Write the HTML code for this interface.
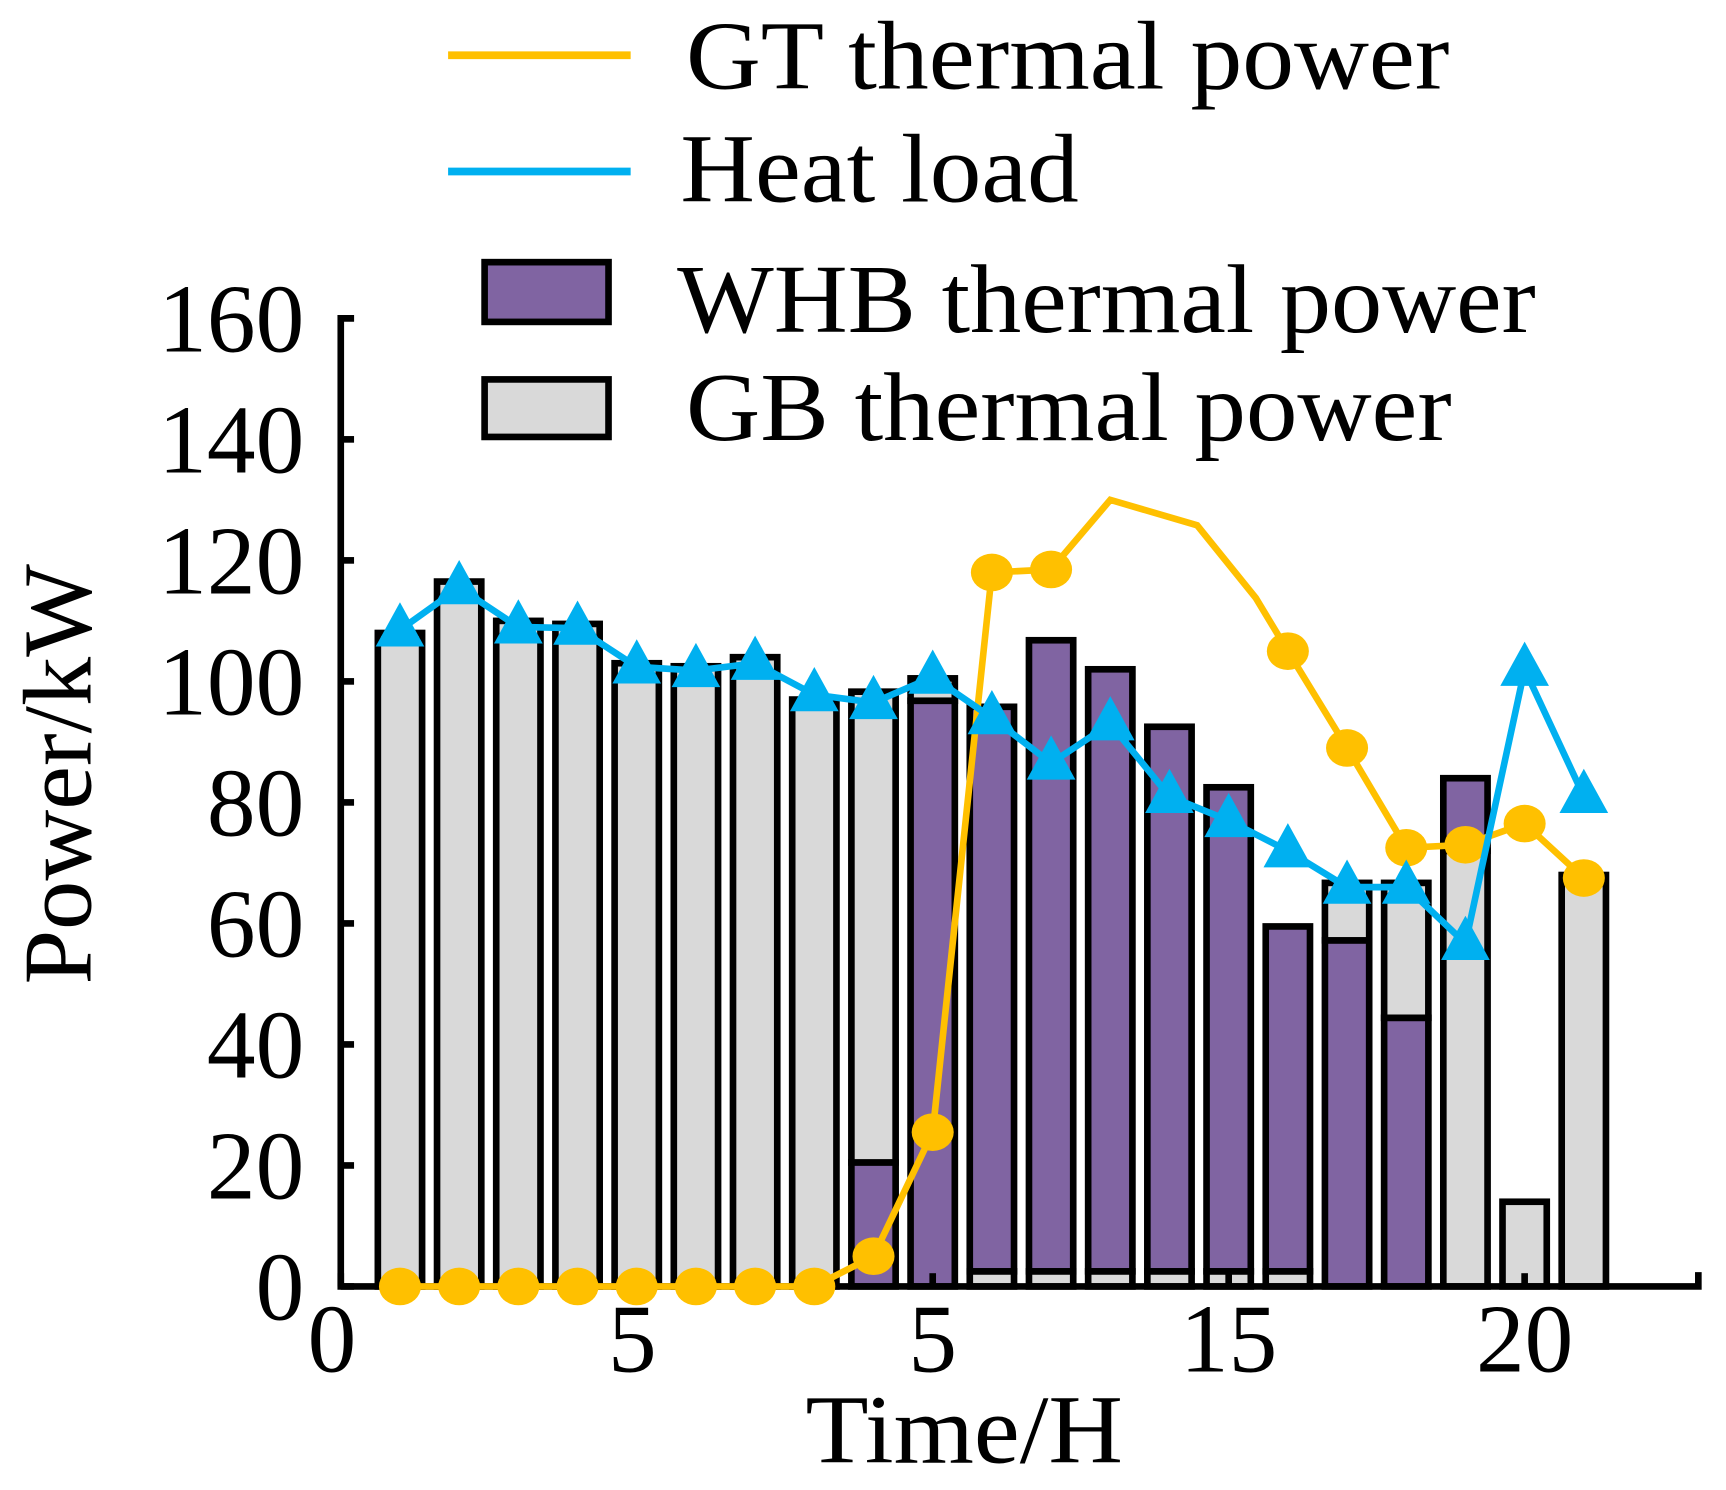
<!DOCTYPE html>
<html><head><meta charset="utf-8"><style>
html,body{margin:0;padding:0;background:#fff}
svg{display:block}
text{font-family:"Liberation Serif",serif;fill:#000}
</style></head><body>
<svg id="s" width="1726" height="1490" viewBox="0 0 1560 1347" preserveAspectRatio="none" xmlns="http://www.w3.org/2000/svg">
<g id="g"></g>
<line x1="405" y1="50" x2="570" y2="50" stroke="#FFC000" stroke-width="7"/>
<text x="620" y="80" font-size="88" textLength="690" lengthAdjust="spacingAndGlyphs">GT thermal power</text>
<line x1="405" y1="155" x2="570" y2="155" stroke="#00B0F0" stroke-width="7"/>
<text x="615" y="182" font-size="88" textLength="360" lengthAdjust="spacingAndGlyphs">Heat load</text>
<rect x="438" y="237" width="112" height="54" fill="#8064A2" stroke="#000" stroke-width="6"/>
<text x="612" y="300" font-size="88" textLength="776" lengthAdjust="spacingAndGlyphs">WHB thermal power</text>
<rect x="438" y="343" width="112" height="52" fill="#D9D9D9" stroke="#000" stroke-width="6"/>
<text x="620" y="398" font-size="88" textLength="692" lengthAdjust="spacingAndGlyphs">GB thermal power</text>
<text x="728" y="1322" font-size="88" textLength="287" lengthAdjust="spacingAndGlyphs">Time/H</text>
<text transform="translate(82,700) rotate(-90)" font-size="88" text-anchor="middle" textLength="380" lengthAdjust="spacingAndGlyphs">Power/kW</text>
</svg>
<script>
const X=t=>308+53.5*t, Y=v=>1163-5.47*v;
let h='';
const G='#D9D9D9',P='#8064A2';
const bars=[[1,[[G,108]]],[2,[[G,116.5]]],[3,[[G,110]]],[4,[[G,109.5]]],[5,[[G,103]]],[6,[[G,102.5]]],[7,[[G,104]]],[8,[[G,97]]],
[9,[[P,20.5],[G,98.3]]],[10,[[P,96.8],[G,100.5]]],[11,[[G,2.5],[P,95.8]]],[12,[[G,2.5],[P,106.8]]],[13,[[G,2.5],[P,102]]],[14,[[G,2.5],[P,92.5]]],
[15,[[G,2.5],[P,82.5]]],[16,[[G,2.5],[P,59.5]]],[17,[[P,57.2],[G,66.7]]],[18,[[P,44.4],[G,66.7]]],[19,[[G,72],[P,84]]],[20,[[G,14]]],[21,[[G,68]]]];
for(const [t,segs] of bars){let b=0;for(const [c,v] of segs){h+=`<rect x="${X(t)-20}" y="${Y(v)}" width="40" height="${Y(b)-Y(v)}" fill="${c}" stroke="#000" stroke-width="6"/>`;b=v;}}
h+=`<polyline points="320,${Y(160)} 308,${Y(160)} 308,1163 1535,1163 1535,1150" fill="none" stroke="#000" stroke-width="6"/>`;
for(let v=0;v<=160;v+=20){h+=`<line x1="308" y1="${Y(v)}" x2="320" y2="${Y(v)}" stroke="#000" stroke-width="6"/>`;
h+=`<text x="275" y="${Y(v)+30}" font-size="88" text-anchor="end">${v}</text>`;}
const xl=[[0,'0'],[5,'5'],[10,'5'],[15,'15'],[20,'20']];
for(const [t,l] of xl){h+=`<line x1="${X(t)}" y1="1163" x2="${X(t)}" y2="1151" stroke="#000" stroke-width="6"/>`;
h+=`<text x="${X(t)-(t==0?8:0)+(t==5?-4:0)}" y="1240" font-size="88" text-anchor="middle">${l}</text>`;}
const gt=[[1,0],[2,0],[3,0],[4,0],[5,0],[6,0],[7,0],[8,0],[9,5],[10,25.5],[11,118],[12,118.5]];
const gtv=[[1003.5,130],[1082,125.8],[1135,113.8]];
const gt2=[[16,105],[17,89],[18,72.5],[19,73],[20,76.5],[21,67.5]];
let pts=gt.map(([t,v])=>`${X(t)},${Y(v)}`).concat(gtv.map(([x,v])=>`${x},${Y(v)}`)).concat(gt2.map(([t,v])=>`${X(t)},${Y(v)}`));
h+=`<polyline points="${pts.join(' ')}" fill="none" stroke="#FFC000" stroke-width="6"/>`;
for(const [t,v] of gt.concat(gt2))h+=`<ellipse cx="${X(t)}" cy="${Y(v)}" rx="19" ry="17" fill="#FFC000"/>`;
const hl=[108.5,115.5,109,108.8,102.4,101.8,103,97.8,96.5,100.7,94,86.5,93,81,77,72,66,66,56.7,102,81];
h+=`<polyline points="${hl.map((v,i)=>`${X(i+1)},${Y(v)}`).join(' ')}" fill="none" stroke="#00B0F0" stroke-width="6"/>`;
hl.forEach((v,i)=>{const x=X(i+1),y=Y(v);h+=`<polygon points="${x-22},${y+15} ${x+22},${y+15} ${x},${y-25}" fill="#00B0F0"/>`;});
document.getElementById('g').innerHTML=h;
</script>
</body></html>
